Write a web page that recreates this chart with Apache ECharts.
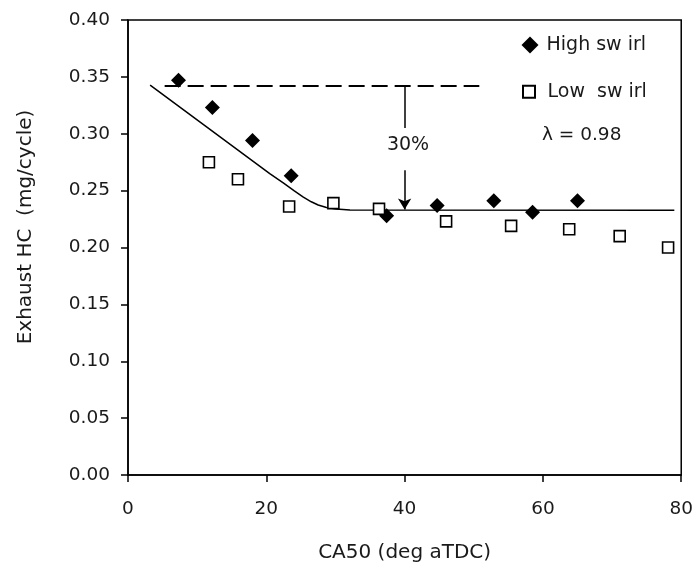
<!DOCTYPE html>
<html>
<head>
<meta charset="utf-8">
<script src="https://cdn.jsdelivr.net/npm/echarts@6/dist/echarts.min.js"></script>
<style>html,body{margin:0;padding:0;background:#fff}#c{width:696px;height:575px}</style>
</head>
<body>
<div id="c"></div>
<script>
// ---- data ----
const highX = [7.3, 12.2, 18.0, 23.6, 37.4, 44.7, 52.9, 58.5, 65.0];
const highY = [0.347, 0.323, 0.294, 0.263, 0.228, 0.237, 0.241, 0.231, 0.241];
const lowX = [11.7, 15.9, 23.3, 29.7, 36.3, 46.0, 55.4, 63.8, 71.1, 78.1];
const lowY = [0.275, 0.260, 0.236, 0.239, 0.234, 0.223, 0.219, 0.216, 0.210, 0.200];
const fitX = [3.2, 20.5, 22.5, 24.0, 25.3, 26.5, 27.5, 28.7, 30.1, 32.1, 79];
const fitY = [0.3427, 0.2650, 0.2565, 0.2500, 0.2445, 0.2402, 0.2374, 0.2352, 0.2338, 0.2330, 0.2328];
const refX = [5.3, 50.8];
const refY = 0.342;
const arrowX = 40;
const arrowSegTop = [0.342, 0.305];
const arrowSegBottom = [0.268, 0.2333];
const xTicks = [0, 20, 40, 60, 80];
const yTicks = [0, 0.05, 0.10, 0.15, 0.20, 0.25, 0.30, 0.35, 0.40];
const seriesNames = ['High sw irl', 'Low  sw irl'];
const annotPct = '30%';
const annotLambda = 'λ = 0.98';
const xName = 'CA50 (deg aTDC)';
const yName = 'Exhaust HC  (mg/cycle)';

const FONT = 'DejaVu Sans';
const TXT = '#1a1a1a';
const zip = (xs, ys) => xs.map((x, i) => [x, ys[i]]);

const chart = echarts.init(document.getElementById('c'), null, {renderer: 'canvas'});
chart.setOption({
  animation: false,
  backgroundColor: '#fff',
  grid: {left: 128, right: 14, top: 20, bottom: 100, show: true, borderColor: '#000', borderWidth: 1.5, backgroundColor: 'transparent'},
  xAxis: {
    type: 'value', min: xTicks[0], max: xTicks[xTicks.length - 1], interval: 20,
    name: xName, nameLocation: 'middle', nameGap: 68,
    nameTextStyle: {fontFamily: FONT, fontSize: 20, color: TXT},
    axisLine: {lineStyle: {color: '#000', width: 1.5}},
    axisTick: {show: true, inside: false, length: 7, lineStyle: {color: '#000', width: 1.5}},
    axisLabel: {margin: 25, fontFamily: FONT, fontSize: 18.5, color: TXT},
    splitLine: {show: false}
  },
  yAxis: {
    type: 'value', min: yTicks[0], max: yTicks[yTicks.length - 1], interval: 0.05,
    axisLine: {show: true, lineStyle: {color: '#000', width: 1.5}},
    axisTick: {show: true, inside: false, length: 7, lineStyle: {color: '#000', width: 1.5}},
    axisLabel: {margin: 18, fontFamily: FONT, fontSize: 18.5, color: TXT, formatter: v => v.toFixed(2)},
    splitLine: {show: false}
  },
  legend: [
    {
      orient: 'vertical', left: 521.5, top: 35, padding: 0, itemWidth: 17, itemHeight: 17,
      data: [seriesNames[0]],
      textStyle: {fontFamily: FONT, fontSize: 19, color: TXT, lineHeight: 20, padding: [0, 0, 0, 3]},
      selectedMode: false
    },
    {
      orient: 'vertical', left: 522, top: 81.7, padding: 0, itemWidth: 12, itemHeight: 12,
      data: [seriesNames[1]],
      textStyle: {fontFamily: FONT, fontSize: 19, color: TXT, lineHeight: 20, padding: [0, 0, 0, 7.5]},
      selectedMode: false
    }
  ],
  graphic: [
    {type: 'text', x: 26, y: 227, rotation: Math.PI / 2,
     style: {text: yName, font: '20px "DejaVu Sans"', fill: TXT, align: 'center', verticalAlign: 'middle'}},
    {type: 'text', x: 408, y: 145,
     style: {text: annotPct, font: '19px "DejaVu Sans"', fill: TXT, align: 'center', verticalAlign: 'middle'}},
    {type: 'text', x: 542, y: 135,
     style: {text: annotLambda, font: '18.5px "DejaVu Sans"', fill: TXT, align: 'left', verticalAlign: 'middle'}}
  ],
  series: [
    {
      name: seriesNames[0], type: 'scatter', data: zip(highX, highY),
      symbol: 'diamond', symbolSize: 15, z: 5,
      itemStyle: {color: '#000', opacity: 1}
    },
    {
      name: seriesNames[1], type: 'scatter', data: zip(lowX, lowY),
      symbol: 'rect', symbolSize: 11, z: 5,
      itemStyle: {color: '#fff', borderColor: '#000', borderWidth: 1.6, opacity: 1}
    },
    {
      name: 'fit', type: 'line', data: zip(fitX, fitY), showSymbol: false, symbol: 'none',
      smooth: false, z: 3,
      lineStyle: {color: '#000', width: 1.5}
    },
    {
      name: 'ref', type: 'line', data: refX.map(x => [x, refY]), showSymbol: false, symbol: 'none', z: 3,
      lineStyle: {color: '#000', width: 2.2, type: [16, 7]},
      markLine: {
        silent: true, animation: false,
        label: {show: false},
        lineStyle: {color: '#000', width: 1.5, type: 'solid'},
        data: [
          [{coord: [arrowX, arrowSegTop[0]], symbol: 'none'}, {coord: [arrowX, arrowSegTop[1]], symbol: 'none'}],
          [{coord: [arrowX, arrowSegBottom[0]], symbol: 'none'}, {coord: [arrowX, arrowSegBottom[1]], symbol: 'arrow', symbolSize: [10, 11]}]
        ]
      }
    }
  ]
});
</script>
</body>
</html>
